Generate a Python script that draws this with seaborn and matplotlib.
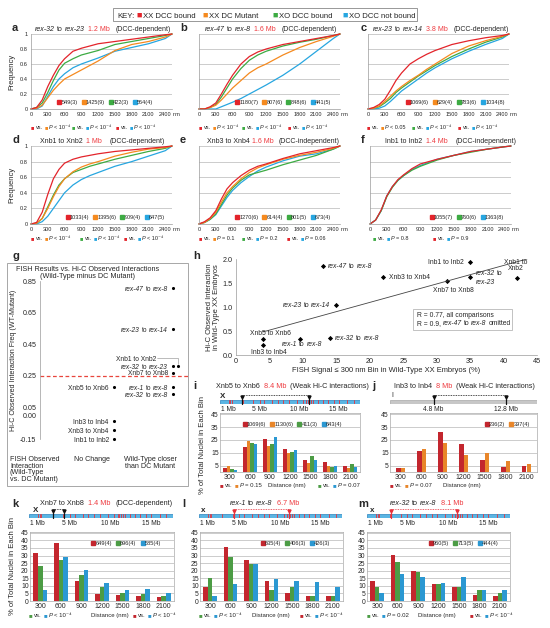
import numpy as np
import pandas as pd
import matplotlib
matplotlib.use("Agg")
import matplotlib.pyplot as plt
import seaborn as sns
from matplotlib.text import Annotation
from matplotlib.lines import Line2D
from matplotlib.patches import Rectangle

# ---------------- data ----------------
groups = ["XX DCC bound", "XX DC Mutant", "XO DCC bound", "XO DCC not bound"]
dist_nm = [0, 100, 200, 300, 400, 500, 600, 750, 900, 1050, 1200, 1500, 1800, 2100, 2400, 2520]

a_red = [0, 0.02, 0.12, 0.30, 0.45, 0.58, 0.67, 0.77, 0.81, 0.84, 0.87, 0.90, 0.93, 0.96, 0.99, 1.0]
a_orange = [0, 0.01, 0.05, 0.15, 0.25, 0.33, 0.40, 0.46, 0.52, 0.58, 0.64, 0.78, 0.86, 0.90, 0.96, 1.0]
a_green = [0, 0.02, 0.08, 0.22, 0.38, 0.52, 0.61, 0.67, 0.72, 0.75, 0.78, 0.86, 0.90, 0.94, 0.98, 1.0]
a_blue = [0, 0.0, 0.04, 0.17, 0.30, 0.40, 0.47, 0.55, 0.60, 0.64, 0.68, 0.77, 0.82, 0.87, 0.94, 1.0]

b_red = [0, 0, 0.03, 0.08, 0.20, 0.33, 0.45, 0.60, 0.70, 0.76, 0.80, 0.86, 0.90, 0.94, 0.98, 1.0]
b_orange = [0, 0, 0.02, 0.05, 0.12, 0.20, 0.28, 0.38, 0.48, 0.55, 0.60, 0.72, 0.82, 0.90, 0.97, 1.0]
b_green = [0, 0, 0.02, 0.06, 0.16, 0.28, 0.40, 0.54, 0.65, 0.72, 0.77, 0.84, 0.89, 0.93, 0.98, 1.0]
b_blue = [0, 0, 0, 0, 0.03, 0.06, 0.09, 0.14, 0.20, 0.26, 0.32, 0.45, 0.60, 0.77, 0.94, 1.0]

c_red = [0, 0.02, 0.06, 0.13, 0.25, 0.38, 0.48, 0.60, 0.67, 0.73, 0.78, 0.86, 0.91, 0.95, 0.98, 1.0]
c_orange = [0, 0.01, 0.04, 0.10, 0.17, 0.24, 0.30, 0.38, 0.45, 0.53, 0.60, 0.74, 0.84, 0.91, 0.97, 1.0]
c_green = [0, 0.01, 0.03, 0.08, 0.14, 0.22, 0.28, 0.36, 0.44, 0.51, 0.58, 0.70, 0.80, 0.89, 0.96, 1.0]
c_blue = [0, 0, 0.01, 0.04, 0.10, 0.17, 0.24, 0.32, 0.40, 0.48, 0.55, 0.67, 0.77, 0.86, 0.94, 1.0]

d_red = [0, 0.02, 0.15, 0.38, 0.58, 0.70, 0.78, 0.83, 0.86, 0.88, 0.90, 0.93, 0.95, 0.97, 0.99, 1.0]
d_orange = [0, 0.01, 0.07, 0.20, 0.35, 0.48, 0.58, 0.67, 0.73, 0.77, 0.80, 0.87, 0.92, 0.96, 0.98, 1.0]
d_green = [0, 0.01, 0.07, 0.22, 0.37, 0.50, 0.58, 0.66, 0.70, 0.74, 0.77, 0.83, 0.88, 0.93, 0.97, 1.0]
d_blue = [0, 0, 0.03, 0.10, 0.20, 0.30, 0.40, 0.50, 0.57, 0.62, 0.66, 0.74, 0.80, 0.87, 0.94, 1.0]

e_red = [0, 0.03, 0.08, 0.17, 0.32, 0.45, 0.53, 0.62, 0.69, 0.74, 0.77, 0.84, 0.90, 0.94, 0.98, 1.0]
e_orange = [0, 0.02, 0.07, 0.15, 0.28, 0.40, 0.48, 0.58, 0.66, 0.72, 0.76, 0.83, 0.88, 0.92, 0.97, 1.0]
e_green = [0, 0.02, 0.06, 0.13, 0.25, 0.37, 0.46, 0.56, 0.63, 0.66, 0.69, 0.76, 0.82, 0.88, 0.96, 1.0]
e_blue = [0, 0.02, 0.06, 0.12, 0.23, 0.34, 0.43, 0.53, 0.61, 0.68, 0.73, 0.81, 0.87, 0.90, 0.96, 1.0]

f_red = [0, 0.05, 0.18, 0.36, 0.48, 0.57, 0.63, 0.71, 0.77, 0.80, 0.83, 0.88, 0.93, 0.96, 0.99, 1.0]
f_green = [0, 0.05, 0.17, 0.35, 0.47, 0.56, 0.62, 0.69, 0.74, 0.78, 0.82, 0.88, 0.92, 0.96, 0.99, 1.0]
f_blue = [0, 0.05, 0.17, 0.36, 0.48, 0.56, 0.62, 0.70, 0.75, 0.79, 0.83, 0.88, 0.93, 0.96, 0.99, 1.0]

a_counts = ["549(3)", "1425(9)", "422(3)", "564(4)"]
b_counts = ["1180(7)", "807(6)", "848(6)", "441(5)"]
c_counts = ["1069(6)", "629(4)", "783(6)", "1034(8)"]
d_counts = ["1033(4)", "1395(6)", "909(4)", "647(5)"]
e_counts = ["1270(6)", "614(4)", "801(5)", "673(4)"]
f_counts = ["1055(7)", "760(6)", "1363(8)"]

# panel g
g_names = ["rex-47 to rex-8", "rex-23 to rex-14", "Xnb1 to Xnb2", "rex-32 to rex-23", "Xnb7 to Xnb8",
           "rex-1 to rex-8", "rex-32 to rex-8", "Xnb5 to Xnb6", "Inb3 to Inb4", "Xnb3 to Xnb4", "Inb1 to Inb2"]
g_values = [0.805, 0.545, 0.31, 0.31, 0.27, 0.18, 0.135, 0.18, -0.036, -0.093, -0.15]
g_column = ["closer", "closer", "closer", "closer", "closer", "closer", "closer",
            "same", "same", "same", "same"]

# panel h
h_names = ["rex-47 to rex-8", "Inb1 to Inb2", "Xnb3 to Xnb4", "Xnb7 to Xnb8", "rex-32 to rex-23",
           "Xnb1 to Xnb2", "rex-23 to rex-14", "Xnb5 to Xnb6", "Inb3 to Inb4", "rex-1 to rex-8", "rex-32 to rex-8"]
h_fish = [13.0, 35.0, 22.0, 31.5, 35.0, 42.0, 15.0, 4.0, 4.0, 9.5, 14.0]
h_hic = [1.85, 1.93, 1.63, 1.54, 1.62, 1.61, 1.05, 0.33, 0.21, 0.34, 0.36]
h_trend_x = [4.0, 43.5]
h_trend_y = [0.48, 2.0]

# bar panels
bin_labels = ["300", "600", "900", "1200", "1500", "1800", "2100"]
i_red = [3.2, 19.5, 25.6, 18.0, 9.3, 8.0, 5.0]
i_orange = [5.0, 24.0, 20.2, 14.7, 7.3, 4.5, 3.5]
i_green = [2.3, 23.0, 21.5, 15.9, 12.4, 4.0, 6.5]
i_blue = [1.8, 22.0, 27.0, 17.4, 9.3, 4.5, 4.0]
i_counts = ["1069(6)", "1130(6)", "411(3)", "643(4)"]

j_red = [3.0, 16.5, 31.0, 22.0, 9.0, 4.0, 5.0]
j_orange = [3.0, 18.0, 22.5, 13.5, 15.0, 8.5, 6.5]
j_counts = ["236(2)", "397(4)"]

k_red = [31.5, 38.5, 13.0, 4.5, 4.0, 3.0, 2.5]
k_green = [23.0, 27.0, 17.0, 9.5, 5.0, 4.5, 3.5]
k_blue = [7.5, 29.0, 20.5, 12.0, 7.0, 8.0, 5.0]
k_counts = ["649(4)", "696(4)", "585(4)"]

l_red = [9.5, 35.5, 27.0, 13.0, 5.5, 3.0, 3.0]
l_green = [15.0, 29.0, 24.5, 7.5, 9.0, 3.5, 3.5]
l_blue = [3.0, 11.0, 24.5, 14.5, 13.5, 12.5, 9.0]
l_counts = ["635(4)", "406(3)", "426(3)"]

m_red = [13.5, 30.5, 20.0, 11.0, 9.0, 4.0, 3.5]
m_green = [9.5, 25.5, 19.0, 11.0, 9.0, 7.5, 5.0]
m_blue = [5.5, 17.5, 15.5, 12.0, 15.5, 7.0, 7.5]
m_counts = ["960(5)", "713(5)", "444(4)"]

# chromosome schematics (Mb)
x_chrom_len = 17.7
i_chrom_len = 16.2
rex_sites = [1.1, 1.3, 1.5, 2.9, 4.2, 5.0, 5.6, 6.6, 7.3, 8.0, 8.7, 9.7, 10.5, 10.9, 11.1,
             11.3, 11.5, 11.8, 12.4, 13.0, 13.6, 14.4, 15.0, 16.1, 16.9]
chrom_ticks = [1, 5, 10, 15]
i_pair = [2.8, 11.3]
j_pair = [4.8, 12.8]
k_pair = [2.9, 4.3]
l_pair = [4.3, 11.1]
m_pair = [3.0, 11.1]

# ---------------- style ----------------
sns.set_theme(style="white")
plt.rcParams["font.family"] = ["Liberation Sans", "DejaVu Sans"]
plt.rcParams["axes.unicode_minus"] = False

RED, ORA, GRN, BLU = "#e3242b", "#f58a1f", "#3dab43", "#27a6e0"
COL = {"XX DCC bound": RED, "XX DC Mutant": ORA, "XO DCC bound": GRN, "XO DCC not bound": BLU}
BAR = {"XX DCC bound": "#c3262e", "XX DC Mutant": "#e8862a", "XO DCC bound": "#4c9c45", "XO DCC not bound": "#2b98d2"}
MBRED = "#ee3a3f"
GRID = "#b8b8b8"
SPINE = "#9a9a9a"

W, H = 550, 628
fig = plt.figure(figsize=(5.5, 6.28), dpi=100)


def rect(x0, y0, x1, y1):
    return [x0 / W, 1 - y1 / H, (x1 - x0) / W, (y1 - y0) / H]


def rich(x, y, segs, size=5.0, ha="left", transform=None, zorder=5):
    if transform is None:
        x, y = x / W, 1 - y / H
        transform = fig.transFigure
    items = []
    for s in segs:
        if isinstance(s, str):
            s = (s, {})
        txt, kw = s
        lead = len(txt) - len(txt.lstrip(" "))
        items.append((txt.strip(" "), lead * size * 0.27, kw))
    if ha == "left":
        prev = None
        for txt, gap, kw in items:
            if prev is None:
                prev = fig.text(x, y, txt, transform=transform, fontsize=size, ha="left", va="baseline",
                                zorder=zorder, **kw)
            else:
                a = Annotation(txt, xy=(1, 0), xycoords=prev, xytext=(gap, 0), textcoords="offset points",
                               fontsize=size, ha="left", va="bottom", zorder=zorder, **kw)
                fig.add_artist(a)
                prev = a
    else:
        nxt = None
        for i in range(len(items) - 1, -1, -1):
            txt, gap, kw = items[i]
            if nxt is None:
                nxt = fig.text(x, y, txt, transform=transform, fontsize=size, ha="right", va="baseline",
                               zorder=zorder, **kw)
            else:
                g_next = items[i + 1][1]
                a = Annotation(txt, xy=(0, 0), xycoords=nxt, xytext=(-g_next, 0), textcoords="offset points",
                               fontsize=size, ha="right", va="bottom", zorder=zorder, **kw)
                fig.add_artist(a)
                nxt = a


IT = {"style": "italic"}


def name_segs(name):
    if name.startswith("rex"):
        p, q = name.split(" to ")
        return [(p, IT), (" to", {}), (" " + q, IT)]
    return [name]


def pseg(c1, c2, ptxt):
    return [("■", {"color": c1}), (" vs.", {}), (" ■", {"color": c2}), (" P", IT), (" " + ptxt, {})]


def panel_letter(x, y, s):
    fig.text(x / W, 1 - y / H, s, fontsize=8, fontweight="bold", ha="left", va="baseline")


def count_legend(ax, cols, labels, anchor, size=4.0, ncol=None):
    handles = [Line2D([], [], marker="s", linestyle="", color=c, markersize=3.0) for c in cols]
    ax.legend(handles, labels, ncol=ncol or len(labels), loc="center", bbox_to_anchor=anchor, frameon=False,
              fontsize=size, handlelength=0.5, handletextpad=0.15, columnspacing=0.8, borderpad=0, borderaxespad=0)


# ---------------- KEY ----------------
fig.add_artist(Rectangle((113 / W, 1 - 21 / H), 304 / W, 13 / H, transform=fig.transFigure,
                         facecolor="white", edgecolor="#888888", lw=0.6, zorder=1))
key_y = 17.6
fig.text(117 / W, 1 - key_y / H, "KEY:", fontsize=5.6, va="baseline")
for xs, xt, g in [(136, 143, groups[0]), (202, 209, groups[1]), (272, 279, groups[2]), (342, 349, groups[3])]:
    fig.text(xs / W, 1 - key_y / H, "■", fontsize=6.5, color=COL[g], va="baseline")
    fig.text(xt / W, 1 - key_y / H, g, fontsize=5.6, va="baseline")


# ---------------- CDF panels ----------------
def cdf_panel(px, curves, counts, leg_cx, show_y, title, tx, ty, prow, prow_y):
    ax = fig.add_axes(rect(*px))
    rows = []
    for g, vals in curves.items():
        for d, v in zip(dist_nm, vals):
            rows.append((d, v, g))
    df = pd.DataFrame(rows, columns=["dist", "freq", "group"])
    order = [g for g in ["XO DCC not bound", "XO DCC bound", "XX DC Mutant", "XX DCC bound"] if g in curves]
    sns.lineplot(data=df, x="dist", y="freq", hue="group", hue_order=order, palette=COL, estimator=None,
                 sort=False, legend=False, linewidth=0.9, ax=ax)
    for ln in ax.lines:
        ln.set_clip_on(False)
    ax.set_xlim(0, 2520)
    ax.set_ylim(0, 1)
    ax.set_yticks(np.arange(0, 1.01, 0.2))
    ax.set_xticks(np.arange(0, 2401, 300))
    ax.set_xticklabels([str(v) for v in range(0, 2401, 300)])
    if show_y:
        ax.set_yticklabels(["0", "0.2", "0.4", "0.6", "0.8", "1"])
        ax.set_ylabel("Frequency", fontsize=5.5, labelpad=3)
    else:
        ax.set_yticklabels([])
        ax.set_ylabel("")
        ax.tick_params(axis="y", length=0)
    ax.set_xlabel("")
    ax.yaxis.grid(True, color=GRID, lw=0.5)
    ax.set_axisbelow(True)
    for s in ["top", "right"]:
        ax.spines[s].set_visible(False)
    for s in ["left", "bottom"]:
        ax.spines[s].set_color(SPINE)
        ax.spines[s].set_linewidth(0.5)
    ax.tick_params(labelsize=4.1, length=1.5, width=0.4, pad=1, color=SPINE)
    ax.annotate("nm", xy=(2400, 0), xycoords=("data", "axes fraction"), xytext=(5.3, -2.5),
                textcoords="offset points", va="top", ha="left", fontsize=4.1)
    count_legend(ax, [COL[g] for g in curves], counts, (leg_cx, 0.085))
    rich(tx, ty, title, size=5.0)
    for xg, segs in prow:
        rich(xg, prow_y, segs, size=4.0)
    return ax


def curves4(r, o, g, b):
    return {groups[0]: r, groups[1]: o, groups[2]: g, groups[3]: b}


P4 = "< 10⁻⁴"
row1_y, row2_y = 129, 240
cdf_panel((31, 34, 172, 109), curves4(a_red, a_orange, a_green, a_blue), a_counts, 0.53, True,
          [("rex-32", IT), (" to", {}), (" rex-23", IT), ("  1.2 Mb", {"color": MBRED}), ("   (DCC-dependent)", {})],
          35, 31, [(31, pseg(RED, ORA, P4)), (72, pseg(GRN, BLU, P4)), (116, pseg(RED, BLU, P4))], row1_y)
cdf_panel((199, 34, 340, 109), curves4(b_red, b_orange, b_green, b_blue), b_counts, 0.6, False,
          [("rex-47", IT), (" to", {}), (" rex-8", IT), ("  1.6 Mb", {"color": MBRED}), ("   (DCC-dependent)", {})],
          205, 31, [(199, pseg(RED, ORA, P4)), (242, pseg(GRN, BLU, P4)), (288, pseg(RED, BLU, P4))], row1_y)
cdf_panel((368, 34, 509, 109), curves4(c_red, c_orange, c_green, c_blue), c_counts, 0.62, False,
          [("rex-23", IT), (" to", {}), (" rex-14", IT), ("  3.8 Mb", {"color": MBRED}), ("   (DCC-dependent)", {})],
          373, 31, [(367, pseg(RED, ORA, "< 0.05")), (412, pseg(GRN, BLU, P4)), (458, pseg(RED, BLU, P4))], row1_y)
cdf_panel((31, 146, 172, 224), curves4(d_red, d_orange, d_green, d_blue), d_counts, 0.6, True,
          [("Xnb1 to Xnb2", {}), ("  1 Mb", {"color": MBRED}), ("    (DCC-dependent)", {})],
          40, 143, [(31, pseg(RED, ORA, P4)), (80, pseg(GRN, BLU, P4)), (124, pseg(RED, BLU, P4))], row2_y)
cdf_panel((199, 146, 340, 224), curves4(e_red, e_orange, e_green, e_blue), e_counts, 0.6, False,
          [("Xnb3 to Xnb4", {}), (" 1.6 Mb", {"color": MBRED}), ("   (DCC-independent)", {})],
          207, 143, [(199, pseg(RED, ORA, "= 0.1")), (242, pseg(GRN, BLU, "= 0.2")), (287, pseg(RED, BLU, "= 0.06"))], row2_y)
cdf_panel((370, 146, 511, 224), {groups[0]: f_red, groups[2]: f_green, groups[3]: f_blue}, f_counts, 0.69, False,
          [("Inb1 to Inb2", {}), ("  1.4 Mb", {"color": MBRED}), ("    (DCC-independent)", {})],
          385, 143, [(373, pseg(GRN, BLU, "= 0.8")), (433, pseg(RED, BLU, "= 0.9"))], row2_y)

for s, x, y in [("a", 12, 31), ("b", 180, 31), ("c", 361, 31), ("d", 12, 143), ("e", 180, 143), ("f", 361, 143),
                ("g", 12, 259), ("h", 193, 259), ("i", 193, 389), ("j", 372, 389), ("k", 12, 507),
                ("l", 182, 507), ("m", 358, 507)]:
    panel_letter(x, y, s)

# ---------------- panel g ----------------
fig.add_artist(Rectangle((7 / W, 1 - 486 / H), 181 / W, 223 / H, transform=fig.transFigure,
                         facecolor="none", edgecolor="#999999", lw=0.6))
fig.text(88 / W, 1 - 271 / H, "FISH Results vs. Hi-C Observed Interactions", fontsize=5.2, ha="center", va="baseline")
fig.text(88 / W, 1 - 278 / H, "(Wild-Type minus DC Mutant)", fontsize=5.2, ha="center", va="baseline")
axg = fig.add_axes(rect(40, 281, 185, 439))
col_pos = {"same": 0.51, "closer": 0.917}
gx = []
for n, c in zip(g_names, g_column):
    xv = col_pos[c]
    if n == "Xnb1 to Xnb2":
        xv += 0.035
    gx.append(xv)
dg = pd.DataFrame({"name": g_names, "val": g_values, "x": gx})
sns.scatterplot(data=dg, x="x", y="val", color="black", s=5, linewidth=0, ax=axg, clip_on=False)
axg.set_xlim(0, 1)
axg.set_ylim(-0.15, 0.85)
axg.set_yticks([0.85, 0.65, 0.45, 0.25, 0.05, 0.0, -0.15])
axg.set_yticklabels(["0.85", "0.65", "0.45", "0.25", "0.05", "0.00", "-0.15"])
axg.set_xticks([])
axg.set_xlabel("")
axg.set_ylabel("Hi-C Observed Interaction Freq (WT-Mutant)", fontsize=5.1, labelpad=2)
axg.tick_params(labelsize=5.1, length=1.5, width=0.4, pad=1, color=SPINE)
for s in ["top", "right", "bottom"]:
    axg.spines[s].set_visible(False)
axg.spines["left"].set_color(SPINE)
axg.spines["left"].set_linewidth(0.5)
axg.patch.set_alpha(0)
axg.plot([0, 1.02], [0.25, 0.25], color="#e8453c", lw=0.9, ls=(0, (3, 2)), clip_on=False)
for n, v, xv in zip(g_names, g_values, gx):
    if n == "Xnb1 to Xnb2":
        ly = v + 0.053
        rich(0.80, ly - 0.017, name_segs(n), size=4.8, ha="right", transform=axg.transData)
        axg.plot([0.81, xv, xv], [ly, ly, v + 0.012], color="#888888", lw=0.4, clip_on=False)
    else:
        rich(xv - 0.035, v - 0.017, name_segs(n), size=4.8, ha="right", transform=axg.transData)
fig.text(10 / W, 1 - 456 / H, "FISH Observed\nInteraction\n(Wild-Type\nvs. DC Mutant)", fontsize=5.1,
         ha="left", va="top", linespacing=0.92)
fig.text(92 / W, 1 - 456 / H, "No Change", fontsize=5.1, ha="center", va="top")
fig.text(150 / W, 1 - 456 / H, "Wild-Type closer\nthan DC Mutant", fontsize=5.1, ha="center", va="top",
         linespacing=0.92)

# ---------------- panel h ----------------
axh = fig.add_axes(rect(236, 259, 537, 355))
dh = pd.DataFrame({"name": h_names, "fish": h_fish, "hic": h_hic})
axh.plot(h_trend_x, h_trend_y, color="#444444", lw=0.6)
sns.scatterplot(data=dh, x="fish", y="hic", marker="D", color="black", s=7, linewidth=0, ax=axh, clip_on=False)
axh.set_xlim(0, 45)
axh.set_ylim(0, 2.0)
axh.set_xticks(range(0, 46, 5))
axh.set_yticks([0, 0.5, 1.0, 1.5, 2.0])
axh.set_yticklabels(["0.0", "0.5", "1.0", "1.5", "2.0"])
axh.set_xlabel("FISH Signal ≤ 300 nm Bin in Wild-Type XX Embryos (%)", fontsize=5.4, labelpad=1)
axh.set_ylabel("Hi-C Observed Interaction\nin Wild-Type XX Embryos", fontsize=5.4, labelpad=2, linespacing=1.0)
axh.tick_params(labelsize=5.2, length=1.5, width=0.4, pad=1, color=SPINE)
for s in ["top", "right"]:
    axh.spines[s].set_visible(False)
for s in ["left", "bottom"]:
    axh.spines[s].set_color(SPINE)
    axh.spines[s].set_linewidth(0.5)
hp = dict(zip(h_names, zip(h_fish, h_hic)))
td = axh.transData
S = 4.9
x0, y0 = hp["rex-47 to rex-8"]; rich(x0 + 0.8, y0 - 0.04, name_segs("rex-47 to rex-8"), S, transform=td)
x0, y0 = hp["Inb1 to Inb2"]; rich(x0 - 0.9, y0 - 0.04, ["Inb1 to Inb2"], S, ha="right", transform=td)
x0, y0 = hp["Xnb3 to Xnb4"]; rich(x0 + 0.8, y0 - 0.04, ["Xnb3 to Xnb4"], S, transform=td)
x0, y0 = hp["Xnb7 to Xnb8"]; axh.text(x0 + 1.0, y0 - 0.12, "Xnb7 to Xnb8", fontsize=S, ha="center", va="top")
x0, y0 = hp["rex-32 to rex-23"]; rich(x0 + 0.9, y0 + 0.04, [("rex-32", IT), (" to", {})], S, transform=td)
axh.text(x0 + 0.9, y0 - 0.04, "rex-23", fontsize=S, style="italic", ha="left", va="top")
x0, y0 = hp["Xnb1 to Xnb2"]; axh.text(x0 - 0.2, y0 + 0.11, "Xnb1 to\nXnb2", fontsize=S, ha="center", va="bottom",
                                      linespacing=0.95)
x0, y0 = hp["rex-23 to rex-14"]; rich(x0 - 0.9, y0 - 0.04, name_segs("rex-23 to rex-14"), S, ha="right", transform=td)
x0, y0 = hp["Xnb5 to Xnb6"]; axh.text(x0 + 1.2, y0 + 0.04, "Xnb5 to Xnb6", fontsize=S, ha="center", va="bottom")
x0, y0 = hp["Inb3 to Inb4"]; axh.text(x0 + 0.9, y0 - 0.08, "Inb3 to Inb4", fontsize=S, ha="center", va="top")
x0, y0 = hp["rex-1 to rex-8"]; rich(x0 - 2.6, y0 - 0.16, name_segs("rex-1 to rex-8"), S, transform=td)
x0, y0 = hp["rex-32 to rex-8"]; rich(x0 + 0.8, y0 - 0.04, name_segs("rex-32 to rex-8"), S, transform=td)
fig.add_artist(Rectangle((413 / W, 1 - 330 / H), 99 / W, 21 / H, transform=fig.transFigure,
                         facecolor="white", edgecolor="#aaaaaa", lw=0.5, zorder=2))
rich(417, 317, ["R = 0.77, all comparisons"], 4.9, zorder=6)
rich(417, 325, ["R = 0.9,", (" rex-47", IT), (" to", {}), (" rex-8", IT), (" omitted", {})], 4.9, zorder=6)


# ---------------- chromosome schematics ----------------
def chrom(px, length, sites, fill, edge, pair, pair_col, ticks, ticklabels, label):
    ax = fig.add_axes(rect(*px))
    dfc = pd.DataFrame({"chrom": [label], "len": [length]})
    sns.barplot(data=dfc, y="chrom", x="len", orient="h", color=fill, saturation=1, width=0.8,
                edgecolor=edge, linewidth=0.5, ax=ax)
    for s in sites:
        ax.plot([s, s], [-0.4, 0.4], color="#e8303a", lw=0.6)
    pc = "#111111" if pair_col == "k" else "#e8303a"
    for p in pair:
        ax.plot([p, p], [-0.6, 0.55], color=pc, lw=0.9, clip_on=False)
        ax.plot([p], [-1.0], marker="v", markersize=2.2, color=pc, clip_on=False)
    ax.plot([pair[0], pair[1]], [-1.35, -1.35], ls=(0, (1, 1)), lw=0.6, color=pc, clip_on=False)
    ax.set_xlim(0, length if label == "I" else x_chrom_len)
    ax.set_ylim(0.5, -0.5)
    ax.set_xticks(ticks)
    ax.set_xticklabels(ticklabels)
    ax.set_yticks([])
    ax.set_xlabel("")
    ax.set_ylabel("")
    ax.tick_params(axis="x", labelsize=4.8, length=2.5, width=0.5, pad=0.5, color="#222222", direction="inout")
    for s in ax.spines.values():
        s.set_visible(False)
    ax.patch.set_alpha(0)
    return ax


XB, XE = "#5bb5e3", "#2a84bf"
chrom((220, 399, 360, 404), x_chrom_len, rex_sites, XB, XE, i_pair, "k", chrom_ticks,
      ["1 Mb", "5 Mb", "10 Mb", "15 Mb"], "X")
chrom((390, 399, 537, 404), i_chrom_len, [], "#c7c7c7", "#a8a8a8", j_pair, "k", j_pair, ["4.8 Mb", "12.8 Mb"], "I")
chrom((29, 513, 173, 518), x_chrom_len, rex_sites, XB, XE, k_pair, "k", chrom_ticks,
      ["1 Mb", "5 Mb", "10 Mb", "15 Mb"], "X")
chrom((199, 513, 342, 518), x_chrom_len, rex_sites, XB, XE, l_pair, "r", chrom_ticks,
      ["1 Mb", "5 Mb", "10 Mb", "15 Mb"], "X")
chrom((367, 513, 510, 518), x_chrom_len, rex_sites, XB, XE, m_pair, "r", chrom_ticks,
      ["1 Mb", "5 Mb", "10 Mb", "15 Mb"], "X")
for x, y, s in [(220, 398, "X"), (33, 512, "X"), (201, 512, "x"), (370, 512, "x")]:
    fig.text(x / W, 1 - y / H, s, fontsize=5.8, fontweight="bold", va="baseline")
fig.text(391 / W, 1 - 397 / H, "I", fontsize=5, va="baseline")


# ---------------- bar panels ----------------
def bar_panel(px, series, counts, width, leg_anchor, ylim, yticks, title, tx, ty, bottom_row, row_y):
    ax = fig.add_axes(rect(*px))
    rows = []
    for g, vals in series.items():
        for b, v in zip(bin_labels, vals):
            rows.append((b, v, g))
    df = pd.DataFrame(rows, columns=["dist", "pct", "group"])
    sns.barplot(data=df, x="dist", y="pct", hue="group", hue_order=list(series.keys()), order=bin_labels,
                palette=BAR, width=width, saturation=1, legend=False, linewidth=0, ax=ax)
    ax.set_ylim(*ylim)
    ax.set_yticks(yticks)
    ax.set_yticklabels([str(t) for t in yticks])
    ax.set_xlim(-0.5, 6.5)
    ax.set_xlabel("")
    ax.set_ylabel("")
    ax.yaxis.grid(True, color=GRID, lw=0.5)
    ax.set_axisbelow(True)
    for s in ax.spines.values():
        s.set_color("#aaaaaa")
        s.set_linewidth(0.5)
    ax.tick_params(labelsize=5.0, length=0, pad=1.5)
    ax.tick_params(axis="y", labelsize=4.9, pad=1)
    count_legend(ax, [BAR[g] for g in series], counts, leg_anchor, size=4.1)
    rich(tx, ty, title, size=5.2)
    for xg, segs in bottom_row:
        rich(xg, row_y, segs, size=4.3)
    return ax


DIST = [("Distance (nm)", {})]
bar_panel((220, 413, 360, 472), {groups[0]: i_red, groups[1]: i_orange, groups[2]: i_green, groups[3]: i_blue},
          i_counts, 0.7, (0.52, 0.8), (0, 46), [5, 15, 25, 35, 45],
          [("Xnb5 to Xnb6", {}), ("  8.4 Mb", {"color": MBRED}), ("  (Weak Hi-C interactions)", {})], 216, 388,
          [(220, pseg(BAR[groups[0]], BAR[groups[1]], "= 0.15")), (268, DIST),
           (318, pseg(BAR[groups[2]], BAR[groups[3]], "= 0.07"))], 487)
bar_panel((390, 413, 537, 472), {groups[0]: j_red, groups[1]: j_orange},
          j_counts, 0.42, (0.8, 0.8), (0, 46), [5, 15, 25, 35, 45],
          [("Inb3 to Inb4", {}), ("  8 Mb", {"color": MBRED}), ("  (Weak Hi-C interactions)", {})], 394, 388,
          [(390, pseg(BAR[groups[0]], BAR[groups[1]], "= 0.07")), (443, DIST)], 487)
bar_panel((30, 532, 174, 601), {groups[0]: k_red, groups[2]: k_green, groups[3]: k_blue},
          k_counts, 0.66, (0.67, 0.84), (0, 45.5), list(range(0, 46, 5)),
          [("Xnb7 to Xnb8", {}), ("  1.4 Mb", {"color": MBRED}), ("   (DCC-dependent)", {})], 40, 505,
          [(29, pseg(BAR[groups[2]], BAR[groups[3]], P4)), (91, DIST),
           (133, pseg(BAR[groups[0]], BAR[groups[3]], P4))], 617)
bar_panel((200, 532, 343, 601), {groups[0]: l_red, groups[2]: l_green, groups[3]: l_blue},
          l_counts, 0.66, (0.67, 0.84), (0, 45.5), list(range(0, 46, 5)),
          [("rex-1", IT), (" to", {}), (" rex-8", IT), ("  6.7 Mb", {"color": MBRED})], 230, 505,
          [(199, pseg(BAR[groups[2]], BAR[groups[3]], P4)), (252, DIST),
           (300, pseg(BAR[groups[0]], BAR[groups[3]], P4))], 617)
bar_panel((367, 532, 510, 601), {groups[0]: m_red, groups[2]: m_green, groups[3]: m_blue},
          m_counts, 0.66, (0.68, 0.84), (0, 45.5), list(range(0, 46, 5)),
          [("rex-32", IT), (" to", {}), (" rex-8", IT), ("  8.1 Mb", {"color": MBRED})], 390, 505,
          [(367, pseg(BAR[groups[2]], BAR[groups[3]], "= 0.02")), (418, DIST),
           (470, pseg(BAR[groups[0]], BAR[groups[3]], P4))], 617)

fig.text(13 / W, 1 - 566 / H, "% of Total Nuclei in Each Bin", fontsize=5.5, rotation=90, ha="center", va="center")
fig.text(203 / W, 1 - 445 / H, "% of Total Nuclei in Each Bin", fontsize=5.5, rotation=90, ha="center", va="center")

fig.savefig("out.png", dpi=100)
